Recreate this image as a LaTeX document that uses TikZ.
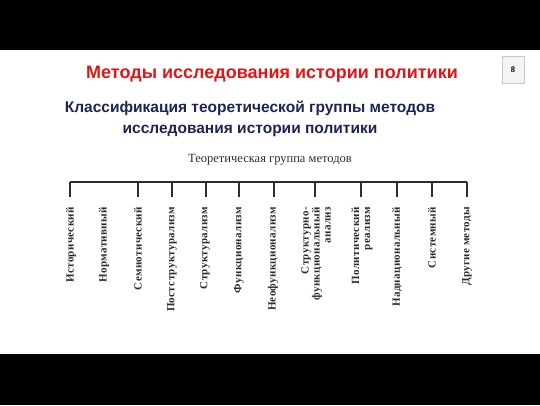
\documentclass[tikz,border=0pt]{standalone}
\usepackage{fontspec}
\setmainfont{Liberation Serif}
\newfontfamily\titlefont{Liberation Sans}
\newfontfamily\labfont[LetterSpace=3.0]{Liberation Serif}
\definecolor{titlered}{RGB}{224,22,22}
\definecolor{subnavy}{RGB}{30,36,84}
\definecolor{diagray}{RGB}{45,45,45}
\definecolor{boxgray}{RGB}{200,200,200}
\definecolor{boxfill}{RGB}{244,244,244}
\begin{document}
\begin{tikzpicture}[x=1pt,y=-1pt,
  band/.style={fill=black,draw=none},
  bar/.style={draw=diagray,line width=1.6pt},
  lab/.style={rotate=90,anchor=east,inner sep=0pt,text=diagray,font=\labfont\bfseries\fontsize{11}{11}\selectfont,align=right},
  tick/.style={draw=diagray,line width=1.6pt}]
\useasboundingbox (0,0) rectangle (540,405);
\fill[white] (0,0) rectangle (540,405);
\fill[band] (0,0) rectangle (540,50);
\fill[band] (0,354) rectangle (540,405);
\node[font=\titlefont\bfseries\fontsize{18}{20}\selectfont,text=titlered] (title) at (272,74) {Методы исследования истории политики};
\node[draw=boxgray,fill=boxfill,minimum width=22pt,minimum height=27pt,inner sep=0pt,font=\bfseries\fontsize{8.5}{9}\selectfont] (page) at (513,70) {8};
\node[font=\titlefont\bfseries\fontsize{15.5}{21.5}\selectfont,text=subnavy,align=center] (sub) at (250,119) {Классификация теоретической группы методов\\исследования истории политики};
\node[font=\fontsize{12.5}{14}\selectfont,text=diagray] (head) at (270,160) {Теоретическая группа методов};
\coordinate (bl) at (70,182);
\coordinate (br) at (467,182);
\draw[bar] (bl) -- (br);
\foreach \n/\x in {t1/70,t3/138,t4/172,t5/206,t6/239,t7/274,t8/315,t9/361,t10/397,t11/432,t12/467}{
  \coordinate (\n a) at (\x,182);
  \coordinate (\n b) at (\x,197);
  \draw[tick] (\n a) -- (\n b);
}
\node[lab] (l1) at (71,207) {Исторический};
\node[lab] (l2) at (104,207) {Нормативный};
\node[lab] (l3) at (138,207) {Семиотический};
\node[lab] (l4) at (172,207) {Постструктурализм};
\node[lab] (l5) at (205,207) {Структурализм};
\node[lab] (l6) at (239,207) {Функционализм};
\node[lab] (l7) at (273,207) {Неофункционализм};
\node[lab] (l8) at (316,207) {Структурно-\\функциональный\\анализ};
\node[lab] (l9) at (362,207) {Политический\\реализм};
\node[lab] (l10) at (397,207) {Наднациональный};
\node[lab] (l11) at (432,207) {Системный};
\node[lab] (l12) at (467,207) {Другие методы};
\end{tikzpicture}
\end{document}
